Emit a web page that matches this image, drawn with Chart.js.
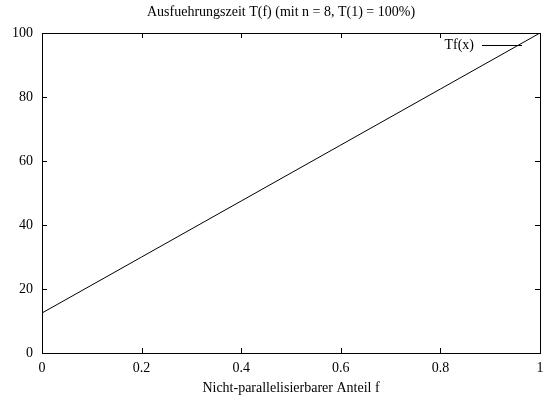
<!DOCTYPE html>
<html>
<head>
<meta charset="utf-8">
<script src="https://cdn.jsdelivr.net/npm/chart.js@4/dist/chart.umd.min.js"></script>
<style>
html,body{margin:0;padding:0;background:#fff;}
#wrap{width:543px;height:402px;position:relative;}
</style>
</head>
<body>
<div id="wrap"><canvas id="c" width="543" height="402"></canvas></div>
<script>
const chartTitle = 'Ausfuehrungszeit T(f) (mit n = 8, T(1) = 100%)';
const xAxisTitle = 'Nicht-parallelisierbarer Anteil f';
const seriesName = 'Tf(x)';
const fValues = [0, 0.2, 0.4, 0.6, 0.8, 1];
const tValues = [12.5, 30, 47.5, 65, 82.5, 100];
const xTicks = [0, 0.2, 0.4, 0.6, 0.8, 1];
const yTicks = [0, 20, 40, 60, 80, 100];

const FONT = 'Liberation Serif, Times New Roman, serif';
const FS = 14;

const framePlugin = {
  id: 'frame',
  afterDraw(chart) {
    const ctx = chart.ctx;
    const a = chart.chartArea;
    const xs = chart.scales.x, ys = chart.scales.y;
    ctx.save();
    ctx.strokeStyle = '#000';
    ctx.lineWidth = 1;
    ctx.strokeRect(Math.round(a.left) + 0.5, Math.round(a.top) + 0.5,
                   Math.round(a.right - a.left), Math.round(a.bottom - a.top));
    const L = 5;
    ctx.beginPath();
    xTicks.forEach(v => {
      const px = Math.round(xs.getPixelForValue(v)) + 0.5;
      ctx.moveTo(px, a.bottom); ctx.lineTo(px, a.bottom - L);
      ctx.moveTo(px, a.top); ctx.lineTo(px, a.top + L);
    });
    yTicks.forEach(v => {
      const py = Math.round(ys.getPixelForValue(v)) + 0.5;
      ctx.moveTo(a.left, py); ctx.lineTo(a.left + L, py);
      ctx.moveTo(a.right, py); ctx.lineTo(a.right - L, py);
    });
    ctx.stroke();
    // title
    ctx.fillStyle = '#000';
    ctx.font = FS + 'px ' + FONT;
    ctx.textAlign = 'center';
    ctx.textBaseline = 'middle';
    ctx.fillText(chartTitle, 281, 12);
    // legend
    ctx.textAlign = 'right';
    ctx.fillText(seriesName, 474, 45);
    ctx.beginPath();
    ctx.moveTo(482, 45.5); ctx.lineTo(522, 45.5);
    ctx.stroke();
    ctx.restore();
  }
};

new Chart(document.getElementById('c'), {
  type: 'line',
  data: {
    datasets: [{
      label: seriesName,
      data: fValues.map((f, i) => ({x: f, y: tValues[i]})),
      borderColor: '#000',
      borderWidth: 1,
      pointRadius: 0,
      tension: 0,
      fill: false
    }]
  },
  options: {
    responsive: false,
    animation: false,
    layout: {padding: {top: 33, right: 3, left: 0, bottom: 0}},
    plugins: {legend: {display: false}, title: {display: false}, tooltip: {enabled: false}},
    scales: {
      x: {
        type: 'linear', min: 0, max: 1,
        afterBuildTicks: s => { s.ticks = xTicks.map(v => ({value: v})); },
        afterFit: s => { s.height = 49; s.paddingRight = 0; s.paddingLeft = 0; },
        grid: {display: false, drawTicks: false},
        border: {display: false},
        ticks: {color: '#000', padding: 7, maxRotation: 0, autoSkip: false, font: {family: FONT, size: FS},
                callback: v => String(v)},
        title: {display: true, text: xAxisTitle, color: '#000', font: {family: FONT, size: FS},
                padding: {top: 0, bottom: 5}}
      },
      y: {
        type: 'linear', min: 0, max: 100,
        afterBuildTicks: s => { s.ticks = yTicks.map(v => ({value: v})); },
        afterFit: s => { s.width = 42; s.paddingTop = 0; s.paddingBottom = 0; },
        grid: {display: false, drawTicks: false},
        border: {display: false},
        ticks: {color: '#000', padding: 9, font: {family: FONT, size: FS},
                callback: v => String(v)}
      }
    }
  },
  plugins: [framePlugin]
});
</script>
</body>
</html>
